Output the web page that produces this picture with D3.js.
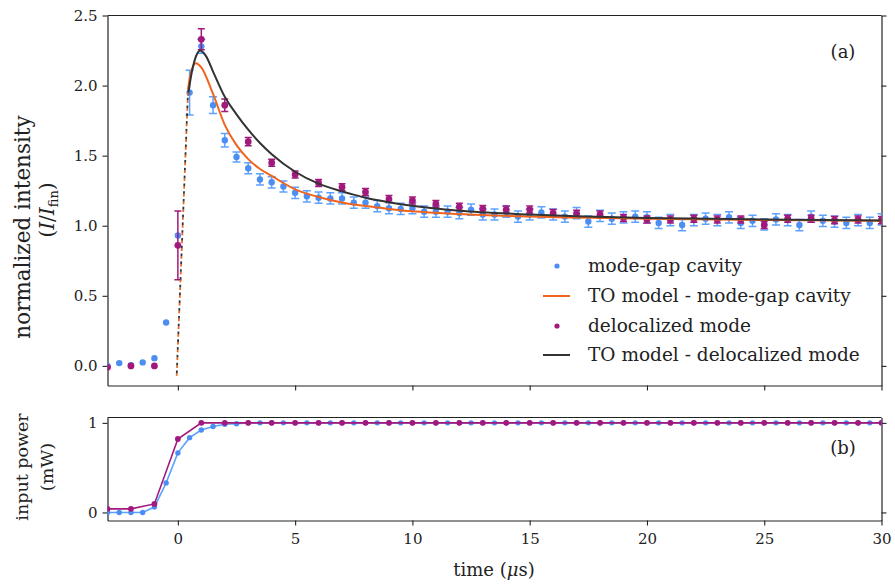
<!DOCTYPE html>
<html><head><meta charset="utf-8">
<script src="https://cdn.jsdelivr.net/npm/d3@7/dist/d3.min.js"></script>
<style>
body{margin:0;background:#fff}
svg{display:block}
text{font-family:"DejaVu Serif",serif;fill:#222}
</style>
</head><body>
<svg id="c" width="895" height="585"></svg>
<script>
// ---------- data ----------
const tBlue = [-3,-2.5,-2,-1.5,-1,-0.5,0,0.5,1,1.5,2,2.5,3,3.5,4,4.5,5,5.5,6,6.5,7,7.5,8,8.5,9,9.5,10,10.5,11,11.5,12,12.5,13,13.5,14,14.5,15,15.5,16,16.5,17,17.5,18,18.5,19,19.5,20,20.5,21,21.5,22,22.5,23,23.5,24,24.5,25,25.5,26,26.5,27,27.5,28,28.5,29,29.5,30];
const intBlue = [0.00,0.02,0.005,0.025,0.055,0.31,0.93,1.95,2.28,1.86,1.61,1.49,1.41,1.33,1.31,1.28,1.235,1.21,1.20,1.195,1.195,1.165,1.165,1.14,1.125,1.12,1.125,1.10,1.10,1.10,1.09,1.115,1.08,1.08,1.10,1.065,1.08,1.095,1.08,1.065,1.09,1.03,1.07,1.05,1.06,1.065,1.06,1.02,1.04,1.005,1.04,1.05,1.04,1.06,1.02,1.035,1.01,1.045,1.04,1.005,1.065,1.035,1.03,1.02,1.04,1.02,1.045];
const errBlue = [0,0,0,0,0,0,0,0.16,0.05,0.06,0.048,0.036,0.04,0.04,0.04,0.04,0.04,0.04,0.04,0.04,0.04,0.04,0.04,0.04,0.04,0.04,0.04,0.04,0.04,0.04,0.04,0.04,0.04,0.04,0.04,0.04,0.04,0.04,0.04,0.04,0.04,0.04,0.04,0.04,0.04,0.04,0.04,0.04,0.04,0.04,0.04,0.04,0.04,0.04,0.04,0.04,0.04,0.04,0.04,0.04,0.04,0.04,0.04,0.04,0.04,0.04,0.04];

const tPurple = [-3,-2,-1,0,1,2,3,4,5,6,7,8,9,10,11,12,13,14,15,16,17,18,19,20,21,22,23,24,25,26,27,28,29,30];
const intPurple = [-0.01,0.0,0.0,0.86,2.33,1.86,1.60,1.45,1.365,1.305,1.275,1.24,1.19,1.18,1.155,1.135,1.12,1.115,1.115,1.09,1.085,1.08,1.055,1.045,1.045,1.05,1.045,1.045,1.005,1.05,1.05,1.04,1.045,1.04];
const errPurple = [0,0,0,0.245,0.075,0.045,0.03,0.025,0.025,0.025,0.025,0.025,0.025,0.025,0.025,0.025,0.025,0.025,0.025,0.025,0.025,0.025,0.025,0.025,0.025,0.025,0.025,0.025,0.025,0.025,0.025,0.025,0.025,0.025];

// TO model curves
const tModelGap = [0.43,0.55,0.77,1.0,1.5,2.0,2.5,3,3.5,4,5,6,7,8,9,10,12,15,20,25,30];
const modelGap  = [1.97,2.09,2.16,2.13,1.94,1.72,1.575,1.475,1.405,1.355,1.26,1.205,1.165,1.14,1.12,1.103,1.083,1.065,1.05,1.04,1.035];
const tModelDeloc = [0.43,0.6,0.8,0.95,1.2,1.5,2,2.5,3,3.5,4,5,6,7,8,9,10,12,15,17,20,25,30];
const modelDeloc  = [1.93,2.10,2.22,2.25,2.21,2.10,1.92,1.795,1.685,1.59,1.51,1.385,1.30,1.245,1.20,1.168,1.142,1.107,1.08,1.067,1.055,1.045,1.038];
const tRise = [-0.05,0.43];
const riseVals = [-0.07,1.95];

// input power
const powBlue = [0,0,0,0,0.06,0.33,0.665,0.835,0.92,0.96,0.985,0.99,1,1,1,1,1,1,1,1,1,1,1,1,1,1,1,1,1,1,1,1,1,1,1,1,1,1,1,1,1,1,1,1,1,1,1,1,1,1,1,1,1,1,1,1,1,1,1,1,1,1,1,1,1,1,1];
const powPurple = [0.04,0.04,0.095,0.82,1,1,1,1,1,1,1,1,1,1,1,1,1,1,1,1,1,1,1,1,1,1,1,1,1,1,1,1,1,1];

const xTicks = [0,5,10,15,20,25,30];
const yTicksTop = [0.0,0.5,1.0,1.5,2.0,2.5];
const yTicksBot = [0,1];
const legendLabels = ["mode-gap cavity","TO model - mode-gap cavity","delocalized mode","TO model - delocalized mode"];

// ---------- style ----------
const cBlue = "#4c8ef4", cBlueLine = "#5ea2ff", cPurple = "#a2197d", cOrange = "#f0641e", cBlack = "#333333";

const svg = d3.select("#c");
const L = 107.5, R = 881.5;
const x = d3.scaleLinear().domain([-3,30]).range([L,R]);
const yT = d3.scaleLinear().domain([-0.14,2.5]).range([385.5,15.5]);
const yB = d3.scaleLinear().domain([-0.09,1.06]).range([520.5,417.5]);

const defs = svg.append("defs");
defs.append("clipPath").attr("id","clipT").append("rect").attr("x",L).attr("y",15.5).attr("width",R-L).attr("height",370);
defs.append("clipPath").attr("id","clipB").append("rect").attr("x",L).attr("y",417.5).attr("width",R-L).attr("height",103);

function axes(y, top, bottom, yTicks, fmt, showX){
  const gl = svg.append("g").attr("transform",`translate(${L},0)`)
    .call(d3.axisLeft(y).tickValues(yTicks).tickFormat(fmt).tickSize(5).tickPadding(5).tickSizeOuter(0));
  const gr = svg.append("g").attr("transform",`translate(${R},0)`)
    .call(d3.axisRight(y).tickValues(yTicks).tickFormat("").tickSize(5).tickSizeOuter(0));
  const gb = svg.append("g").attr("transform",`translate(0,${bottom})`)
    .call(d3.axisBottom(x).tickValues(xTicks).tickFormat(showX? d3.format("d") : "").tickSize(5).tickPadding(8).tickSizeOuter(0));
  svg.append("line").attr("x1",L).attr("x2",R).attr("y1",top).attr("y2",top).attr("stroke","#222").attr("stroke-width",1.2);
  [gl,gr,gb].forEach(g=>{
    g.select(".domain").attr("stroke","#222").attr("stroke-width",1.2);
    g.selectAll(".tick line").attr("stroke","#222").attr("stroke-width",1.1);
    g.selectAll("text").style("font-family","'DejaVu Serif',serif").style("font-size","15px").attr("fill","#222");
  });
}
axes(yT,15.5,385.5,yTicksTop,d3.format(".1f"),false);
axes(yB,417.5,520.5,yTicksBot,d3.format("d"),true);

// ---------- top panel ----------
const gT = svg.append("g").attr("clip-path","url(#clipT)");
function errbars(g, ts, vs, es, color, cap){
  ts.forEach((t,i)=>{
    if(es[i]<=0) return;
    const cx = x(t), y1 = yT(vs[i]-es[i]), y2 = yT(vs[i]+es[i]);
    g.append("line").attr("x1",cx).attr("x2",cx).attr("y1",y1).attr("y2",y2).attr("stroke",color).attr("stroke-width",1.5);
    [y1,y2].forEach(yy=>g.append("line").attr("x1",cx-cap).attr("x2",cx+cap).attr("y1",yy).attr("y2",yy).attr("stroke",color).attr("stroke-width",1.5));
  });
}
errbars(gT,tBlue,intBlue,errBlue,cBlueLine,4);
gT.selectAll("circle.b").data(tBlue).join("circle").attr("cx",d=>x(d)).attr("cy",(d,i)=>yT(intBlue[i])).attr("r",3.2).attr("fill",cBlue);
errbars(gT,tPurple,intPurple,errPurple,cPurple,3.5);
gT.selectAll("circle.p").data(tPurple).join("circle").attr("cx",d=>x(d)).attr("cy",(d,i)=>yT(intPurple[i])).attr("r",3.4).attr("fill",cPurple);

const lineT = (ts,vs)=> d3.line().curve(d3.curveMonotoneX).x((d,i)=>x(ts[i])).y((d,i)=>yT(vs[i]))(vs);
gT.append("path").attr("d",lineT(tModelGap,modelGap)).attr("fill","none").attr("stroke",cOrange).attr("stroke-width",2);
gT.append("path").attr("d",lineT(tModelDeloc,modelDeloc)).attr("fill","none").attr("stroke",cBlack).attr("stroke-width",2);
const riseLine = d3.line().x((d,i)=>x(tRise[i])).y((d,i)=>yT(riseVals[i]))(riseVals);
gT.append("path").attr("d",riseLine).attr("fill","none").attr("stroke",cOrange).attr("stroke-width",1.8).attr("stroke-dasharray","2.6,5.2");
gT.append("path").attr("d",riseLine).attr("fill","none").attr("stroke",cBlack).attr("stroke-width",1.8).attr("stroke-dasharray","2.6,5.2").attr("stroke-dashoffset",-2.6);

// legend
const lg = svg.append("g");
const rows = [266,296,326,355];
lg.append("circle").attr("cx",557).attr("cy",rows[0]).attr("r",2.6).attr("fill",cBlue);
lg.append("line").attr("x1",543).attr("x2",570).attr("y1",rows[1]).attr("y2",rows[1]).attr("stroke",cOrange).attr("stroke-width",2);
lg.append("circle").attr("cx",557).attr("cy",rows[2]).attr("r",2.6).attr("fill",cPurple);
lg.append("line").attr("x1",543).attr("x2",570).attr("y1",rows[3]).attr("y2",rows[3]).attr("stroke",cBlack).attr("stroke-width",2);
legendLabels.forEach((s,i)=>lg.append("text").attr("x",588).attr("y",rows[i]).attr("dy","0.33em").style("font-size","18.5px").text(s));

svg.append("text").attr("x",843).attr("y",52).attr("dy","0.35em").attr("text-anchor","middle").style("font-size","18px").text("(a)");

// ---------- bottom panel ----------
const gB = svg.append("g").attr("clip-path","url(#clipB)");
const lineB = (ts,vs)=> d3.line().x((d,i)=>x(ts[i])).y((d,i)=>yB(vs[i]))(vs);
gB.append("path").attr("d",lineB(tBlue,powBlue)).attr("fill","none").attr("stroke",cBlueLine).attr("stroke-width",1.6);
gB.selectAll("circle.b").data(tBlue).join("circle").attr("cx",d=>x(d)).attr("cy",(d,i)=>yB(powBlue[i])).attr("r",2.7).attr("fill",cBlue);
gB.append("path").attr("d",lineB(tPurple,powPurple)).attr("fill","none").attr("stroke",cPurple).attr("stroke-width",1.6);
gB.selectAll("circle.p").data(tPurple).join("circle").attr("cx",d=>x(d)).attr("cy",(d,i)=>yB(powPurple[i])).attr("r",2.9).attr("fill",cPurple);

svg.append("text").attr("x",843).attr("y",448).attr("dy","0.35em").attr("text-anchor","middle").style("font-size","18px").text("(b)");

// ---------- axis titles ----------
svg.append("text").attr("transform","translate(22,227) rotate(-90)").attr("text-anchor","middle").attr("dy","0.35em").style("font-size","21.5px").text("normalized intensity");
const sub = svg.append("text").attr("transform","translate(47,210) rotate(-90)").attr("text-anchor","middle").attr("dy","0.35em").style("font-size","20px");
sub.append("tspan").text("(");
sub.append("tspan").style("font-style","italic").text("I");
sub.append("tspan").text("/");
sub.append("tspan").style("font-style","italic").text("I");
sub.append("tspan").attr("dy","4").style("font-size","13px").text("fin");
sub.append("tspan").attr("dy","-4").text(")");

svg.append("text").attr("transform","translate(22,467) rotate(-90)").attr("text-anchor","middle").attr("dy","0.35em").style("font-size","17.5px").text("input power");
svg.append("text").attr("transform","translate(47,467) rotate(-90)").attr("text-anchor","middle").attr("dy","0.35em").style("font-size","17.5px").text("(mW)");

const xl = svg.append("text").attr("x",494).attr("y",570).attr("dy","0.35em").attr("text-anchor","middle").style("font-size","18px");
xl.append("tspan").text("time (");
xl.append("tspan").style("font-style","italic").text("μ");
xl.append("tspan").text("s)");
</script>
</body></html>
